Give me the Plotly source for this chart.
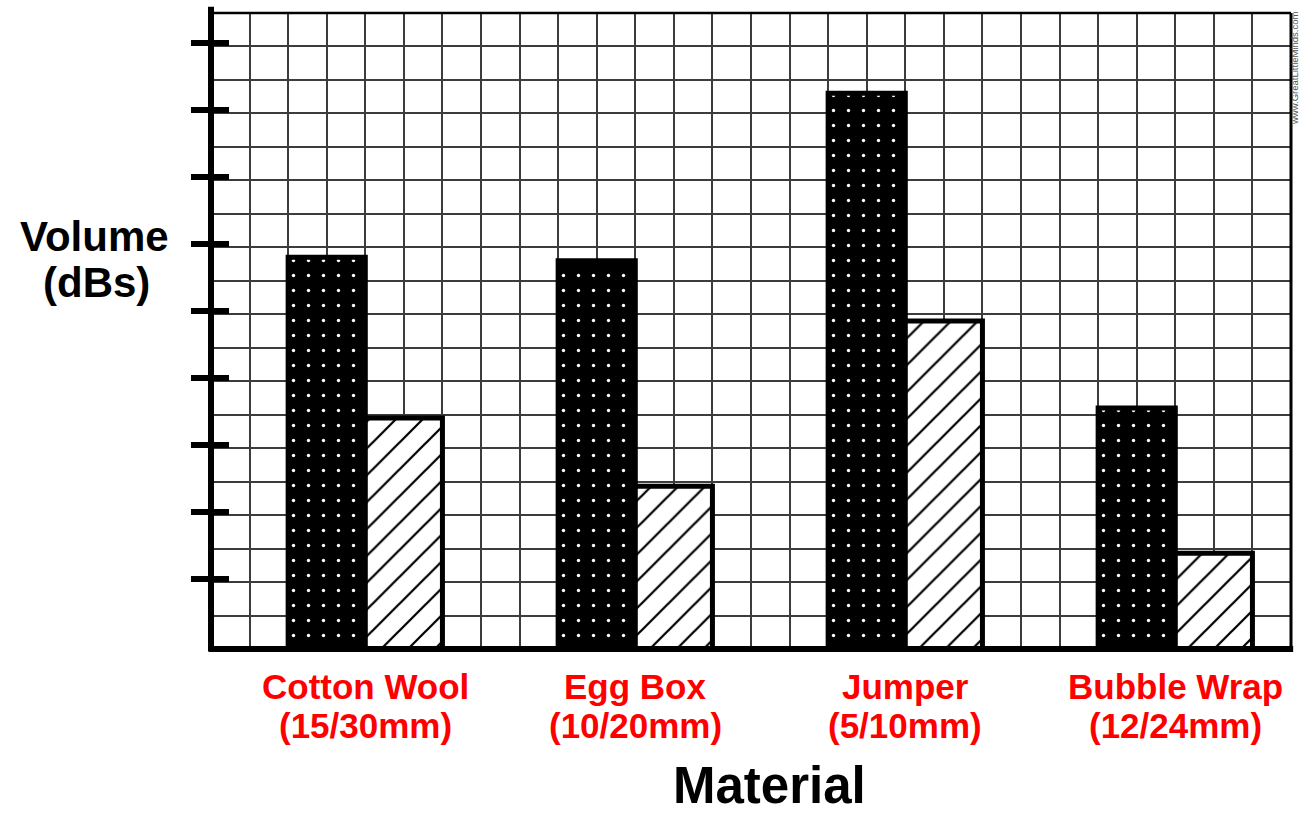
import plotly.graph_objects as go

# ---- data ----
materials = ["Cotton Wool", "Egg Box", "Jumper", "Bubble Wrap"]
thickness = ["(15/30mm)", "(10/20mm)", "(5/10mm)", "(12/24mm)"]
thin_layer_db = [58.5, 58.0, 83.0, 36.0]     # dotted bars
thick_layer_db = [34.5, 24.3, 49.0, 14.3]    # hatched bars
y_tick_vals = [10, 20, 30, 40, 50, 60, 70, 80, 90]

FONT = "Liberation Sans"
GRID = "#3c3c3c"

fig = go.Figure()

fig.add_trace(go.Bar(
    x=materials, y=thin_layer_db, name="Thin layer",
    marker=dict(color="black",
                line=dict(color="black", width=5),
                pattern=dict(shape=".", bgcolor="black", fgcolor="white",
                             size=15, solidity=0.04, fillmode="replace")),
    hoverinfo="skip", showlegend=False))
fig.add_trace(go.Bar(
    x=materials, y=thick_layer_db, name="Thick layer",
    marker=dict(color="white",
                line=dict(color="black", width=5),
                pattern=dict(shape="/", bgcolor="white", fgcolor="black",
                             size=19, solidity=0.12, fillmode="replace")),
    hoverinfo="skip", showlegend=False))

# helper invisible traces so overlay axes exist
fig.add_trace(go.Scatter(x=[0], y=[0], xaxis="x2", yaxis="y", mode="markers",
                         marker=dict(opacity=0), hoverinfo="skip", showlegend=False))
fig.add_trace(go.Scatter(x=[materials[0]], y=[0], xaxis="x", yaxis="y2", mode="markers",
                         marker=dict(opacity=0), hoverinfo="skip", showlegend=False))
fig.add_trace(go.Scatter(x=[materials[0]], y=[0], xaxis="x", yaxis="y3", mode="markers",
                         marker=dict(opacity=0), hoverinfo="skip", showlegend=False))

n_cols = 28
fig.update_layout(
    width=1300, height=813,
    margin=dict(l=211, r=9, t=13, b=164),
    paper_bgcolor="white", plot_bgcolor="white",
    barmode="group", bargap=3/7, bargroupgap=0,
    xaxis=dict(type="category", range=[-4/7, 24/7], showgrid=False,
               showticklabels=False, ticks="", showline=False, zeroline=False),
    xaxis2=dict(overlaying="x", range=[0, n_cols], dtick=1, showgrid=True,
                gridcolor=GRID, gridwidth=1.6, showticklabels=False, ticks="",
                showline=False, zeroline=False, side="bottom"),
    yaxis=dict(range=[0, 95], dtick=5, showgrid=True, gridcolor=GRID, gridwidth=1.6,
               showticklabels=False, ticks="", showline=False, zeroline=False),
    yaxis2=dict(overlaying="y", range=[-0.45, 94.55], tickmode="array",
                tickvals=y_tick_vals, ticks="outside", ticklen=19, tickwidth=6,
                tickcolor="black", showgrid=False, showticklabels=False,
                showline=False, zeroline=False, side="left"),
    yaxis3=dict(overlaying="y", range=[-0.45, 94.55], tickmode="array",
                tickvals=y_tick_vals, ticks="inside", ticklen=18, tickwidth=6,
                tickcolor="black", showgrid=False, showticklabels=False,
                showline=False, zeroline=False, side="left"),
)

# frame: thin top/right, thick left/bottom axis lines
fig.add_shape(type="line", xref="paper", yref="paper", x0=0, x1=1, y0=1, y1=1,
              line=dict(color="black", width=2.5), layer="above")
fig.add_shape(type="line", xref="paper", yref="paper", x0=1, x1=1, y0=0, y1=1,
              line=dict(color="black", width=3), layer="above")
fig.add_shape(type="line", xref="paper", yref="paper", x0=0, x1=0, y0=-0.004, y1=1.01,
              line=dict(color="black", width=6), layer="above")
fig.add_shape(type="line", xref="paper", yref="paper", x0=-0.002, x1=1.002, y0=0, y1=0,
              line=dict(color="black", width=6), layer="above")

# category labels (two lines each)
for m, t in zip(materials, thickness):
    fig.add_annotation(x=m, xref="x", xanchor="center", y=0, yref="paper",
                       yanchor="middle", yshift=-37, text=m, showarrow=False,
                       font=dict(family=FONT, size=35, color="#ff0000", weight="bold"))
    fig.add_annotation(x=m, xref="x", xanchor="center", y=0, yref="paper",
                       yanchor="middle", yshift=-76, text=t, showarrow=False,
                       font=dict(family=FONT, size=35, color="#ff0000", weight="bold"))

# axis titles
fig.add_annotation(x=0.5, xref="paper", xanchor="center", xshift=18, y=0, yref="paper",
                   yanchor="middle", yshift=-136, text="Material", showarrow=False,
                   font=dict(family=FONT, size=51, color="black", weight="bold"))
fig.add_annotation(x=0, xref="paper", xanchor="center", xshift=-117, y=0, yref="paper",
                   yanchor="middle", yshift=413, text="Volume", showarrow=False,
                   font=dict(family=FONT, size=42, color="black", weight="bold"))
fig.add_annotation(x=0, xref="paper", xanchor="center", xshift=-115, y=0, yref="paper",
                   yanchor="middle", yshift=367, text="(dBs)", showarrow=False,
                   font=dict(family=FONT, size=42, color="black", weight="bold"))

# watermark
fig.add_annotation(x=1, xref="paper", xanchor="center", xshift=3, y=1, yref="paper",
                   yanchor="middle", yshift=-55, text="www.GreatLittleMinds.com",
                   textangle=-90, showarrow=False,
                   font=dict(family=FONT, size=9.5, color="#555555"))

fig.write_html("out.html",
               config={"displayModeBar": False},
               post_script="document.body.style.margin='0px';"
                           "document.body.style.overflow='hidden';")
